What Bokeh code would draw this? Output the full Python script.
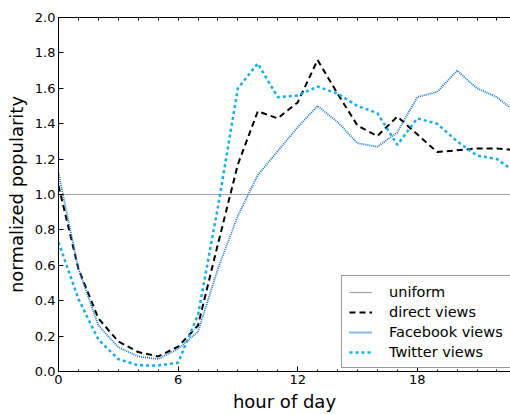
from bokeh.plotting import figure
from bokeh.models import (FixedTicker, PrintfTickFormatter, LinearAxis, Legend,
                          LegendItem, Range1d, ColumnDataSource)
from bokeh.embed import file_html
from bokeh.resources import INLINE

hours = list(range(24))
uniform = [1.0] * 24
direct = [1.05, 0.58, 0.30, 0.17, 0.11, 0.085, 0.14, 0.26, 0.72, 1.17, 1.47, 1.43,
          1.52, 1.76, 1.57, 1.39, 1.33, 1.44, 1.34, 1.24, 1.25, 1.26, 1.26, 1.25]
facebook = [1.12, 0.58, 0.26, 0.137, 0.085, 0.07, 0.128, 0.225, 0.58, 0.88, 1.11, 1.245,
            1.38, 1.50, 1.41, 1.29, 1.27, 1.35, 1.55, 1.58, 1.70, 1.60, 1.55, 1.46]
twitter = [0.73, 0.41, 0.18, 0.07, 0.035, 0.034, 0.05, 0.32, 0.93, 1.60, 1.74, 1.55,
           1.56, 1.61, 1.57, 1.50, 1.46, 1.28, 1.43, 1.40, 1.30, 1.22, 1.20, 1.12]

x_major = [0, 6, 12, 18]
x_minor = list(range(24))
y_major = [0.0, 0.2, 0.4, 0.6, 0.8, 1.0, 1.2, 1.4, 1.6, 1.8, 2.0]

FONT = "DejaVu Sans"

src = ColumnDataSource(dict(h=hours, u=uniform, d=direct, f=facebook, t=twitter))

p = figure(width=510, height=414, x_range=Range1d(0, 22.68), y_range=Range1d(0, 2.0),
           output_backend="svg", toolbar_location=None,
           min_border_left=58, min_border_right=0, min_border_top=17, min_border_bottom=41)
p.grid.visible = False
p.outline_line_color = None

r_u = p.line("h", "u", source=src, line_color="#a0a0a0", line_width=1.2)
r_d = p.line("h", "d", source=src, line_color="black", line_width=2, line_dash="6 4")
r_f = p.line("h", "f", source=src, line_color="#1a78d4", line_width=1.8, line_dash="1 1")
r_t = p.line("h", "t", source=src, line_color="#12aef0", line_width=2.5, line_dash="3 3")

p.xaxis[0].ticker = FixedTicker(ticks=x_major, minor_ticks=x_minor)
p.yaxis[0].ticker = FixedTicker(ticks=y_major, minor_ticks=[])
p.yaxis[0].formatter = PrintfTickFormatter(format="%.1f")

for ax in (p.xaxis[0], p.yaxis[0]):
    ax.major_tick_in = 5
    ax.major_tick_out = 0
    ax.minor_tick_in = 2
    ax.minor_tick_out = 0
    ax.axis_line_color = "black"
    ax.major_tick_line_color = "black"
    ax.minor_tick_line_color = "black"
    ax.major_label_text_font = FONT
    ax.major_label_text_font_size = "13px"
    ax.major_label_text_color = "black"
    ax.axis_label_text_font = FONT
    ax.axis_label_text_font_size = "18px"
    ax.axis_label_text_font_style = "normal"
    ax.axis_label_text_color = "black"
    ax.major_label_standoff = 3

p.xaxis[0].axis_label = "hour of day"
p.xaxis[0].axis_label_standoff = 4
p.yaxis[0].axis_label = "normalized popularity"
p.yaxis[0].axis_label_standoff = 5

top = LinearAxis(ticker=FixedTicker(ticks=[], minor_ticks=x_minor),
                 minor_tick_in=3, minor_tick_out=0, major_tick_in=0, major_tick_out=0,
                 minor_tick_line_color="black", axis_line_color="black")
p.add_layout(top, "above")

legend = Legend(items=[LegendItem(label="uniform", renderers=[r_u]),
                       LegendItem(label="direct views", renderers=[r_d]),
                       LegendItem(label="Facebook views", renderers=[r_f]),
                       LegendItem(label="Twitter views", renderers=[r_t])],
                location=(283, 3))
legend.label_text_font = FONT
legend.label_text_font_size = "14.5px"
legend.label_text_color = "black"
legend.glyph_width = 23
legend.glyph_height = 16
legend.label_height = 17
legend.spacing = 3
legend.padding = 7
legend.label_standoff = 17
legend.border_line_color = "#333333"
legend.border_line_width = 1
legend.background_fill_color = "white"
legend.background_fill_alpha = 1
legend.margin = 0
p.add_layout(legend, "center")

open("out.html", "w").write(file_html(p, INLINE))
